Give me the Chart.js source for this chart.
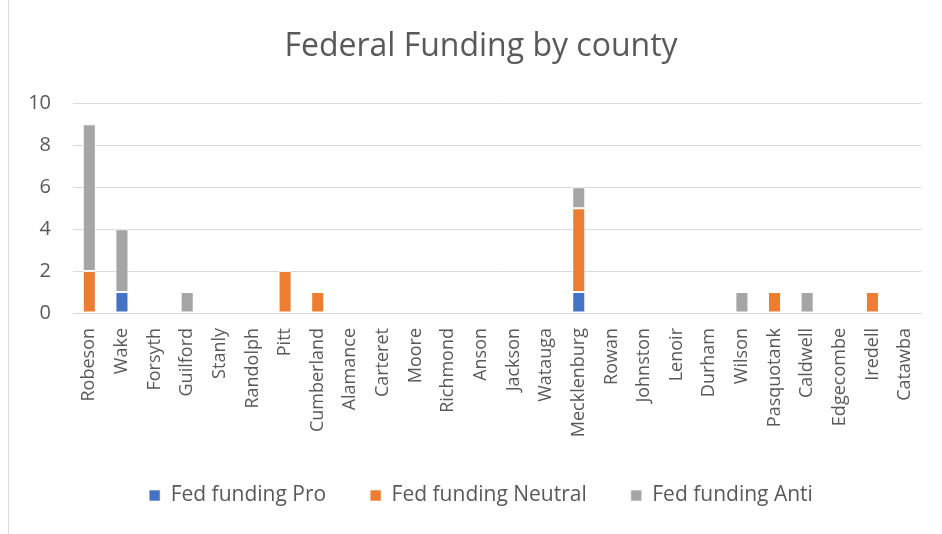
<!DOCTYPE html>
<html>
<head>
<meta charset="utf-8">
<script src="https://cdn.jsdelivr.net/npm/chart.js@4"></script>
<style>
  html, body { margin: 0; padding: 0; background: #fff; }
  #wrap { position: relative; width: 942px; height: 534px; }
</style>
</head>
<body>
<div id="wrap"><canvas id="fedChart" width="942" height="534"></canvas></div>
<script>
// ---- data ----
const counties = ["Robeson","Wake","Forsyth","Guilford","Stanly","Randolph","Pitt","Cumberland",
  "Alamance","Carteret","Moore","Richmond","Anson","Jackson","Watauga","Mecklenburg","Rowan",
  "Johnston","Lenoir","Durham","Wilson","Pasquotank","Caldwell","Edgecombe","Iredell","Catawba"];

const fedPro     = [0,1,0,0,0,0,0,0,0,0,0,0,0,0,0,1,0,0,0,0,0,0,0,0,0,0];
const fedNeutral = [2,0,0,0,0,0,2,1,0,0,0,0,0,0,0,4,0,0,0,0,0,1,0,0,1,0];
const fedAnti    = [7,3,0,1,0,0,0,0,0,0,0,0,0,0,0,1,0,0,0,0,1,0,1,0,0,0];

const yTicks = [0,2,4,6,8,10];

// ---- frame line on the left like the excel chart area ----
const framePlugin = {
  id: "frame",
  beforeDraw(c) {
    const g = c.ctx;
    g.save();
    g.strokeStyle = "#d9d9d9";
    g.lineWidth = 1;
    g.beginPath();
    g.moveTo(8.5, 0);
    g.lineTo(8.5, 534);
    g.stroke();
    g.restore();
  }
};

const txt = "#595959";
const fontFam = "'Open Sans', 'Noto Sans', sans-serif";

const chart = new Chart(document.getElementById("fedChart"), {
  type: "bar",
  data: {
    labels: counties,
    datasets: [
      { label: "Fed funding Pro", data: fedPro, backgroundColor: "#4472c4" },
      { label: "Fed funding Neutral", data: fedNeutral, backgroundColor: "#ed7d31" },
      { label: "Fed funding Anti", data: fedAnti, backgroundColor: "#a5a5a5" }
    ]
  },
  options: {
    responsive: false,
    animation: false,
    layout: { padding: { left: 20, right: 0, top: 0, bottom: 18 } },
    datasets: {
      bar: {
        barPercentage: 0.8,
        categoryPercentage: 0.5,
        borderColor: "rgba(255,255,255,0.6)",
        borderWidth: 1,
        borderSkipped: false
      }
    },
    plugins: {
      title: {
        display: true,
        text: "Federal Funding by county",
        color: txt,
        font: { family: fontFam, size: 32, weight: "normal" },
        padding: { top: 28, bottom: 37 }
      },
      legend: {
        position: "bottom",
        labels: {
          color: txt,
          font: { family: fontFam, size: 21 },
          boxWidth: 11,
          boxHeight: 11,
          padding: 44
        }
      },
      tooltip: { enabled: false }
    },
    scales: {
      x: {
        stacked: true,
        grid: { display: false, drawTicks: false },
        border: { display: true, color: "#d9d9d9" },
        ticks: {
          color: txt,
          font: { family: fontFam, size: 18 },
          minRotation: 90,
          maxRotation: 90,
          autoSkip: false,
          padding: 15
        },
        afterFit(s) { s.height = 128; }
      },
      y: {
        stacked: true,
        min: 0,
        max: 10,
        afterBuildTicks(s) { s.ticks = yTicks.map(v => ({ value: v })); },
        grid: { color: "#d9d9d9", lineWidth: 1, drawTicks: false },
        border: { display: false },
        ticks: {
          color: txt,
          font: { family: fontFam, size: 20 },
          padding: 22
        },
        afterFit(s) { s.width = 53; }
      },
      // empty spacer on the right so the plot ends where excel's does
      yRight: {
        type: "linear",
        position: "right",
        grid: { display: false },
        border: { display: false },
        ticks: { display: false },
        afterFit(s) { s.width = 18; }
      }
    }
  },
  plugins: [framePlugin]
});
</script>
</body>
</html>
